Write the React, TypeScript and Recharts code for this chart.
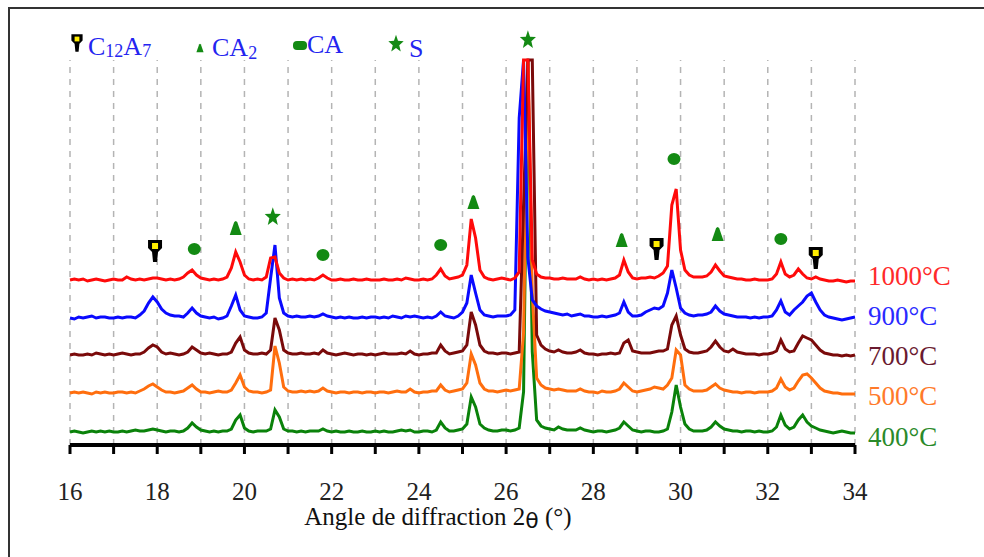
import React from 'react';
import { ComposedChart, Line, Scatter, XAxis, YAxis, ReferenceLine } from 'recharts';

// scan step 0.1° from 16 to 34
const twoTheta = Array.from({ length: 181 }, (_, i) => Math.round((16 + i * 0.1) * 10) / 10);

// intensities (arb. units), one row per degree
const int1000 = [
  0, 1, 0, 1, -1, 0, 1, 0, -1, 0,
  1, 0, 0, 3, 1, 0, 1, 0, 1, 2,
  2, 1, 0, 1, 0, 1, 3, 7, 10, 5,
  2, 1, 0, 1, 0, 1, 3, 12, 28, 18,
  5, 1, 0, 1, 0, 3, 22, 23, 7, 2,
  0, 1, 0, 1, 0, 1, 0, 2, 5, 2,
  0, 0, 1, 0, 0, 1, 0, 0, 1, 0,
  0, 0, 1, 0, 0, 1, 0, 2, 1, 0,
  0, 1, 0, 1, 5, 11, 4, 1, 2, 3,
  5, 15, 61, 42, 10, 3, 1, 0, 1, 2,
  1, 0, 2, 8, 220, 220, 20, 6, 3, 2,
  2, 1, 1, 2, 1, 1, 1, 3, 1, 0,
  1, 0, 1, 0, 1, 2, 5, 20, 8, 2,
  1, 2, 2, 3, 2, 4, 7, 14, 75, 91,
  30, 10, 5, 3, 3, 3, 4, 8, 15, 9,
  4, 3, 2, 1, 1, 0, 0, 1, 0, 0,
  0, 1, 6, 18, 6, 3, 5, 11, 6, 2,
  1, 3, 1, 0, -1, -1, 0, -1, -2, -1,
  -1,
];

const int900 = [
  0, -1, 1, 0, 1, 2, 0, 1, 1, 0,
  0, 1, 0, 1, 1, 0, 3, 7, 15, 21,
  16, 9, 5, 3, 2, 2, 1, 5, 10, 5,
  2, 1, 0, 1, -1, 0, 2, 12, 23, 8,
  2, 1, 0, 0, 1, 5, 40, 73, 20, 5,
  2, 1, 2, 1, 1, 2, 1, 2, 4, 2,
  1, 0, 1, 0, 1, 0, 0, 1, 0, 1,
  1, 0, 1, 0, 2, 1, 0, 2, 1, 2,
  1, 0, 1, 0, 2, 6, 2, 1, 0, 2,
  6, 15, 43, 25, 8, 3, 2, 1, 2, 2,
  2, 3, 8, 200, 258, 60, 18, 12, 9, 7,
  6, 5, 4, 3, 4, 2, 3, 4, 2, 2,
  1, 1, 2, 1, 2, 3, 5, 16, 6, 2,
  2, 3, 6, 8, 10, 9, 12, 25, 48, 30,
  10, 5, 3, 2, 3, 3, 4, 6, 12, 7,
  4, 3, 2, 1, 1, 1, 0, 1, 0, 1,
  1, 2, 8, 17, 6, 3, 8, 12, 16, 22,
  25, 16, 8, 3, 1, 0, -1, -2, -1, 0,
  1,
];

const int700 = [
  0, 1, 0, 0, 1, 0, 2, 1, 0, 1,
  0, 1, 2, 1, 0, 1, 1, 3, 7, 10,
  8, 3, 1, 2, 1, 0, 1, 3, 8, 5,
  2, 1, 2, 1, 0, 1, 1, 3, 12, 18,
  5, 2, 1, 1, 2, 1, 5, 37, 25, 5,
  2, 1, 1, 2, 1, 1, 2, 1, 5, 2,
  1, 0, 1, 2, 1, 0, 1, 1, 0, 1,
  0, 1, 2, 1, 1, 1, 2, 1, 4, 1,
  0, 1, 1, 2, 2, 10, 4, 1, 2, 3,
  4, 10, 43, 30, 10, 4, 2, 2, 1, 2,
  2, 1, 2, 3, 150, 295, 295, 20, 10, 6,
  4, 3, 5, 3, 2, 2, 3, 5, 2, 1,
  1, 0, 1, 1, 2, 1, 2, 12, 15, 4,
  3, 2, 2, 2, 3, 4, 4, 6, 30, 39,
  20, 6, 3, 2, 2, 3, 4, 8, 14, 8,
  4, 3, 6, 3, 2, 1, 1, 1, 0, 1,
  1, 2, 4, 15, 6, 3, 4, 12, 19, 17,
  15, 10, 5, 2, 1, 0, 0, -1, 0, -1,
  0,
];

const int500 = [
  0, 1, 0, 1, 0, -1, 1, 0, 1, 0,
  0, 1, 1, 0, 1, 0, 2, 4, 7, 9,
  6, 3, 1, 1, 0, 1, 2, 5, 8, 4,
  1, 1, 0, 1, 2, 1, 1, 3, 10, 18,
  6, 2, 1, 1, 0, 1, 3, 47, 30, 6,
  2, 1, 1, 2, 1, 2, 1, 2, 5, 2,
  1, 0, 1, 1, 0, 1, 1, 0, 1, 1,
  0, 1, 1, 0, 1, 2, 1, 1, 4, 1,
  0, 1, 1, 2, 2, 8, 3, 1, 2, 3,
  4, 10, 39, 28, 10, 4, 2, 2, 1, 2,
  3, 2, 3, 4, 60, 333, 100, 15, 8, 5,
  4, 3, 4, 3, 2, 2, 2, 4, 2, 1,
  1, 0, 2, 1, 1, 2, 4, 10, 6, 2,
  1, 2, 3, 4, 6, 5, 4, 8, 15, 43,
  38, 8, 4, 2, 2, 2, 3, 6, 9, 5,
  3, 2, 1, 1, 0, 1, 1, 0, 1, 1,
  1, 2, 5, 14, 6, 3, 5, 12, 18, 19,
  15, 10, 5, 2, 1, 0, 0, -1, -1, -1,
  -1,
];

const int400 = [
  0, 1, 0, -1, 0, 1, 0, 1, 0, 1,
  0, 0, 1, 0, 1, 2, 1, 1, 2, 3,
  2, 1, 0, 1, 1, 0, 1, 4, 9, 5,
  2, 1, 0, 1, 0, 1, 1, 3, 12, 17,
  4, 1, 0, 1, 1, 1, 3, 22, 15, 3,
  1, 1, 0, 1, 0, 1, 1, 1, 3, 1,
  0, 1, 0, 0, 1, 0, 0, 1, 0, 0,
  1, 0, 1, 0, 0, 1, 2, 1, 2, 0,
  0, 1, 1, 0, 2, 10, 4, 1, 1, 2,
  3, 8, 35, 25, 8, 4, 2, 1, 1, 2,
  2, 1, 2, 4, 40, 372, 80, 12, 6, 4,
  3, 2, 5, 3, 2, 2, 2, 4, 2, 1,
  0, 1, 1, 0, 1, 2, 4, 10, 6, 2,
  1, 0, 1, 1, 0, 0, 1, 3, 20, 47,
  25, 8, 3, 1, 1, 1, 2, 5, 10, 6,
  3, 2, 1, 1, 0, 1, 1, 0, 1, 0,
  0, 1, 5, 17, 7, 3, 5, 12, 17, 10,
  6, 4, 2, 1, 0, -1, 0, 1, 0, -1,
  -1,
];

// vertical shift of each pattern in the stack
const shift400 = 13;
const shift500 = 52;
const shift700 = 90;
const shift900 = 127;
const shift1000 = 165;

// phase markers: 2θ position and height of the symbol
const c12a7Marks = [
  { x: 17.95, y: 194 },
  { x: 29.45, y: 196 },
  { x: 33.1, y: 187 },
];
const ca2Marks = [
  { x: 19.8, y: 217 },
  { x: 25.25, y: 243 },
  { x: 28.65, y: 205 },
  { x: 30.85, y: 211 },
];
const caMarks = [
  { x: 18.85, y: 196 },
  { x: 21.8, y: 190 },
  { x: 24.5, y: 200 },
  { x: 29.85, y: 286 },
  { x: 32.3, y: 206 },
];
const sMarks = [
  { x: 20.65, y: 228 },
  { x: 26.5, y: 405 },
];

const gridTicks = [16, 17, 18, 19, 20, 21, 22, 23, 24, 25, 26, 27, 28, 29, 30, 31, 32, 33, 34];

const rows = twoTheta.map((x, i) => ({
  x,
  t400: int400[i] + shift400,
  t500: int500[i] + shift500,
  t700: int700[i] + shift700,
  t900: int900[i] + shift900,
  t1000: int1000[i] + shift1000,
}));

const GREEN = '#138a13';
const SERIF = '"Liberation Serif", "Times New Roman", serif';

const starPath = (R: number, r: number, sy: number) => {
  const pts: string[] = [];
  for (let i = 0; i < 10; i++) {
    const a = (-90 + i * 36) * Math.PI / 180;
    const rad = i % 2 === 0 ? R : r;
    pts.push(`${(rad * Math.cos(a)).toFixed(2)},${(rad * Math.sin(a) * sy).toFixed(2)}`);
  }
  return 'M' + pts.join('L') + 'Z';
};

const C12A7Icon = ({ cx, cy, s = 1 }: any) => (
  <g transform={`translate(${cx},${cy}) scale(${s})`}>
    <path d="M-7,-11 L7,-11 L7,-3 L3,1 L2,11 L-2,11 L-3,1 L-7,-3 Z" fill="#000" />
    <rect x={-3} y={-8} width={6} height={6} fill="#ffee00" />
  </g>
);
const CA2Icon = ({ cx, cy, s = 1 }: any) => (
  <path transform={`translate(${cx},${cy}) scale(${s})`} d="M0,-7 L1.5,-6 L6,7 L-6,7 L-1.5,-6 Z" fill={GREEN} />
);
const CAIcon = ({ cx, cy }: any) => <ellipse cx={cx} cy={cy} rx={6.5} ry={6} fill={GREEN} />;
const SIcon = ({ cx, cy, s = 1 }: any) => (
  <path transform={`translate(${cx},${cy}) scale(${s})`} d={starPath(8.5, 3.6, 1.15)} fill={GREEN} />
);

const XTick = (props: any) => {
  const { x, y, payload } = props;
  if (payload.value % 2 !== 0) return null;
  return (
    <text x={x} y={y + 44} textAnchor="middle" fontFamily={SERIF} fontSize={25} fill="#222">
      {payload.value}
    </text>
  );
};

const tempLabels = [
  { text: '1000°C', y: 285, color: '#ff2a2a' },
  { text: '900°C', y: 325, color: '#2a2aff' },
  { text: '700°C', y: 365, color: '#6a1a30' },
  { text: '500°C', y: 405, color: '#ff7a2a' },
  { text: '400°C', y: 446, color: '#2a8a2a' },
];

const LEG = '#2424f0';

export default function App() {
  return (
    <div style={{ position: 'absolute', left: 0, top: 0, width: 984, height: 557, background: '#fff', overflow: 'hidden' }}>
      <ComposedChart
        width={984}
        height={557}
        data={rows}
        margin={{ top: 40, right: 129, left: 70, bottom: 52 }}
      >
        <XAxis
          dataKey="x"
          type="number"
          domain={[16, 34]}
          ticks={gridTicks}
          interval={0}
          height={60}
          tickSize={9}
          axisLine={{ stroke: '#000', strokeWidth: 4 }}
          tickLine={{ stroke: '#000', strokeWidth: 3 }}
          tick={<XTick />}
        />
        <YAxis hide type="number" domain={[0, 405]} />
        {gridTicks.map((g) => (
          <ReferenceLine
            key={g}
            segment={[{ x: g, y: 0 }, { x: g, y: 385 }]}
            stroke="#b4b4b4"
            strokeWidth={1.5}
            strokeDasharray="6 6"
          />
        ))}
        <Line dataKey="t400" stroke="#0a820a" strokeWidth={3} dot={false} isAnimationActive={false} />
        <Line dataKey="t500" stroke="#ff6e0e" strokeWidth={3} dot={false} isAnimationActive={false} />
        <Line dataKey="t700" stroke="#7a0a0a" strokeWidth={3} dot={false} isAnimationActive={false} />
        <Line dataKey="t900" stroke="#0a0aff" strokeWidth={3} dot={false} isAnimationActive={false} />
        <Line dataKey="t1000" stroke="#ff0a0a" strokeWidth={3} dot={false} isAnimationActive={false} />
        <Scatter data={c12a7Marks} dataKey="y" isAnimationActive={false} shape={(p: any) => <C12A7Icon cx={p.cx} cy={p.cy} />} />
        <Scatter data={ca2Marks} dataKey="y" isAnimationActive={false} shape={(p: any) => <CA2Icon cx={p.cx} cy={p.cy} />} />
        <Scatter data={caMarks} dataKey="y" isAnimationActive={false} shape={(p: any) => <CAIcon cx={p.cx} cy={p.cy} />} />
        <Scatter data={sMarks} dataKey="y" isAnimationActive={false} shape={(p: any) => <SIcon cx={p.cx} cy={p.cy} />} />
      </ComposedChart>

      <svg width={984} height={557} style={{ position: 'absolute', left: 0, top: 0, pointerEvents: 'none' }}>
        <rect x={9} y={8} width={1000} height={600} fill="none" stroke="#333" strokeWidth={2} />

        {/* legend */}
        <C12A7Icon cx={77} cy={43} s={0.8} />
        <text x={88} y={55} fontFamily={SERIF} fontSize={26} fill={LEG}>
          C<tspan fontSize={18} dy={2}>12</tspan><tspan dy={-2}>A</tspan><tspan fontSize={18} dy={2}>7</tspan>
        </text>
        <CA2Icon cx={200} cy={48} s={0.6} />
        <text x={212} y={56} fontFamily={SERIF} fontSize={26} fill={LEG}>
          CA<tspan fontSize={18} dy={3}>2</tspan>
        </text>
        <rect x={293} y={41} width={14} height={9} rx={4} fill={GREEN} />
        <text x={307} y={53} fontFamily={SERIF} fontSize={26} fill={LEG}>CA</text>
        <SIcon cx={396} cy={44} s={0.95} />
        <text x={409} y={57} fontFamily={SERIF} fontSize={26} fill={LEG}>S</text>

        {tempLabels.map((t) => (
          <text key={t.text} x={868} y={t.y} fontFamily={SERIF} fontSize={27} fill={t.color}>
            {t.text}
          </text>
        ))}

        <text x={438} y={525} textAnchor="middle" fontFamily={SERIF} fontSize={25} fill="#111">
          Angle de diffraction 2<tspan fontFamily="'DejaVu Sans', sans-serif" fontSize={22} dy={3}>θ</tspan>
          <tspan dy={-3}> (°)</tspan>
        </text>
      </svg>
    </div>
  );
}
